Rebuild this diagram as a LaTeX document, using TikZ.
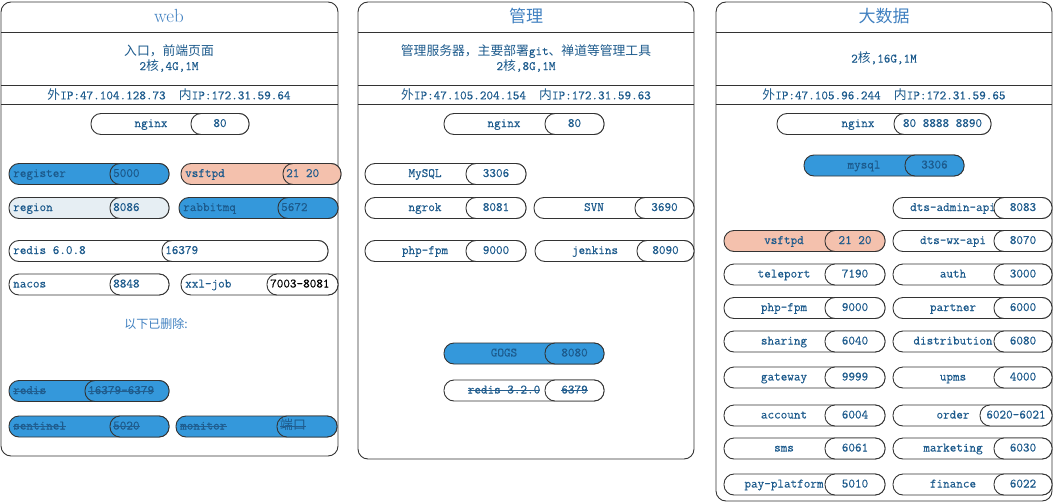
\documentclass[tikz,border=0pt]{standalone}
\usepackage{fontspec}
\setmonofont[FakeBold=0.3]{Latin Modern Mono}
\newfontfamily\cjkf{Noto Sans CJK SC}
\newcommand\zh[1]{{\cjkf #1}}
\definecolor{textblue}{HTML}{1C5A8C}
\definecolor{titleblue}{HTML}{4080C0}
\definecolor{pillblue}{HTML}{3498DB}
\definecolor{salmon}{HTML}{F4C1AD}
\definecolor{regiongray}{HTML}{E6EEF3}
\definecolor{linegray}{HTML}{333333}
\definecolor{strikeblue}{HTML}{245E8E}
\tikzset{
  panel/.style={draw=linegray, line width=0.9pt},
  pillshape/.style={draw=linegray, line width=0.9pt, rounded corners=10pt, minimum height=21pt, inner sep=0pt, outer sep=0pt},
  lbl/.style={text=textblue, inner sep=0pt, font=\ttfamily\fontsize{12.8}{15}\selectfont},
  ptxt/.style={lbl, text height=8.5pt, text depth=2.5pt},
  ttl/.style={text=titleblue, inner sep=0pt},
  strikeln/.style={draw=strikeblue, line width=0.8pt}
}
\newcommand\nameoff{60}
\newcommand\portcol{textblue}
\newcommand\pill[9]{%
  \node[pillshape, fill=#6, minimum width={#4-#2}] (#1) at ({(#2+#4)/2},#5) {};
  \if#9l%
    \node[ptxt, anchor=west] (#1-n) at ({#2+4},#5) {#7};
  \else
    \node[ptxt] (#1-n) at ({#2+\nameoff},#5) {#7};
  \fi
  \node[pillshape, fill=#6, minimum width={#4-#3}] (#1-p) at ({(#3+#4)/2},#5) {};
  \if#9l%
    \node[ptxt, anchor=west, text=\portcol] (#1-t) at ({#3+3},#5) {#8};
  \else
    \node[ptxt, text=\portcol] (#1-t) at ({(#3+#4)/2},#5) {#8};
  \fi
}
\newcommand\strike[1]{%
  \draw[strikeln] (#1-n.west) -- (#1-n.east);
  \draw[strikeln] (#1-t.west) -- (#1-t.east);
}
\begin{document}
\begin{tikzpicture}[x=1pt, y=-1pt]
\useasboundingbox (0,0) rectangle (1054,503);
% ---------- panels ----------
\draw[panel, rounded corners=10pt] (1,2) rectangle (338,456);
\draw[panel] (1,32) -- (338,32) (1,85) -- (338,85) (1,104) -- (338,104);
\draw[panel, rounded corners=10pt] (358,2) rectangle (694,459);
\draw[panel] (358,32) -- (694,32) (358,85) -- (694,85) (358,104) -- (694,104);
\draw[panel, rounded corners=10pt] (716,2) rectangle (1052,501);
\draw[panel] (716,32) -- (1052,32) (716,85) -- (1052,85) (716,104) -- (1052,104);
% ---------- headers ----------
\node[ttl, font=\rmfamily\fontsize{19}{22}\selectfont] (t1) at (169,16) {web};
\node[ttl, font=\cjkf\fontsize{17}{20}\selectfont] (t2) at (526,16) {管理};
\node[ttl, font=\cjkf\fontsize{17}{20}\selectfont] (t3) at (884,16) {大数据};
\node[lbl, align=center] (d1) at (169,58) {\zh{入口，前端页面}\\2\zh{核},4G,1M};
\node[lbl, align=center] (d2) at (526,58) {\zh{管理服务器，主要部署}git\zh{、禅道等管理工具}\\2\zh{核},8G,1M};
\node[lbl, align=center] (d3) at (884,58) {2\zh{核},16G,1M};
\node[lbl] (ip1) at (169,94.5) {\zh{外}IP:47.104.128.73\ \ \zh{内}IP:172.31.59.64};
\node[lbl] (ip2) at (526,94.5) {\zh{外}IP:47.105.204.154\ \ \zh{内}IP:172.31.59.63};
\node[lbl] (ip3) at (884,94.5) {\zh{外}IP:47.105.96.244\ \ \zh{内}IP:172.31.59.65};
% ---------- web ----------
\pill{wnginx}{91}{191}{249}{124}{white}{nginx}{80}{c}
\pill{wreg}{9}{110}{169}{174}{pillblue}{register}{5000}{l}
\pill{wvsf}{181}{283}{341}{174}{salmon}{vsftpd}{21 20}{l}
\pill{wregion}{9}{110}{169}{208}{regiongray}{region}{8086}{l}
\pill{wrabbit}{179}{278}{338}{208}{pillblue}{rabbitmq}{5672}{l}
\pill{wredis}{9}{162}{328}{251}{white}{redis 6.0.8}{16379}{l}
\pill{wnacos}{9}{110}{169}{284.5}{white}{nacos}{8848}{l}
{\renewcommand\portcol{black}\pill{wxxl}{181}{267}{338}{284.5}{white}{xxl-job}{7003-8081}{l}}
\node[lbl, text=titleblue, font=\cjkf\fontsize{12}{14}\selectfont] (del) at (156,324) {以下已删除:};
\pill{wredis2}{9}{85}{169}{391}{pillblue}{redis}{16379-6379}{l}
\strike{wredis2}
\pill{wsent}{9}{110}{169}{426.5}{pillblue}{sentinel}{5020}{l}
\strike{wsent}
\pill{wmon}{176}{277}{337}{426.5}{pillblue}{monitor}{\zh{端口}}{l}
\strike{wmon}
% ---------- management ----------
\pill{mnginx}{444}{545}{604}{124}{white}{nginx}{80}{c}
\pill{mmysql}{365}{466}{526}{174}{white}{MySQL}{3306}{c}
\pill{mngrok}{365}{466}{526}{208}{white}{ngrok}{8081}{c}
\pill{msvn}{534}{635}{694}{208}{white}{SVN}{3690}{c}
\pill{mphp}{365}{466}{526}{251}{white}{php-fpm}{9000}{c}
\pill{mjenk}{535}{637}{694}{251}{white}{jenkins}{8090}{c}
\pill{mgogs}{444}{545}{604}{353.5}{pillblue}{GOGS}{8080}{c}
\pill{mredis}{444}{545}{604}{390.5}{white}{redis 3.2.0}{6379}{c}
\strike{mredis}
% ---------- big data ----------
{\renewcommand\nameoff{81}\pill{bnginx}{777}{894}{991}{124}{white}{nginx}{80 8888 8890}{c}}
\pill{bmysql}{804}{905}{964}{165.5}{pillblue}{mysql}{3306}{c}
\pill{bdtsadm}{893}{994}{1052}{208}{white}{dts-admin-api}{8083}{c}
\pill{bvsf}{724}{825}{885}{241}{salmon}{vsftpd}{21 20}{c}
\pill{bdtswx}{893}{994}{1052}{241}{white}{dts-wx-api}{8070}{c}
\pill{btele}{724}{825}{885}{274.5}{white}{teleport}{7190}{c}
\pill{bauth}{893}{994}{1052}{274.5}{white}{auth}{3000}{c}
\pill{bphp}{724}{825}{885}{308}{white}{php-fpm}{9000}{c}
\pill{bpart}{893}{994}{1052}{308}{white}{partner}{6000}{c}
\pill{bshar}{724}{825}{885}{341.5}{white}{sharing}{6040}{c}
\pill{bdist}{893}{994}{1052}{341.5}{white}{distribution}{6080}{c}
\pill{bgate}{724}{825}{885}{377.5}{white}{gateway}{9999}{c}
\pill{bupms}{893}{994}{1052}{377.5}{white}{upms}{4000}{c}
\pill{bacc}{724}{825}{885}{415.5}{white}{account}{6004}{c}
\pill{border}{893}{980}{1052}{415.5}{white}{order}{6020-6021}{c}
\pill{bsms}{724}{825}{885}{448.5}{white}{sms}{6061}{c}
\pill{bmkt}{893}{994}{1052}{448.5}{white}{marketing}{6030}{c}
\pill{bpay}{724}{825}{885}{484.5}{white}{pay-platform}{5010}{c}
\pill{bfin}{893}{994}{1052}{484.5}{white}{finance}{6022}{c}
\end{tikzpicture}
\end{document}
